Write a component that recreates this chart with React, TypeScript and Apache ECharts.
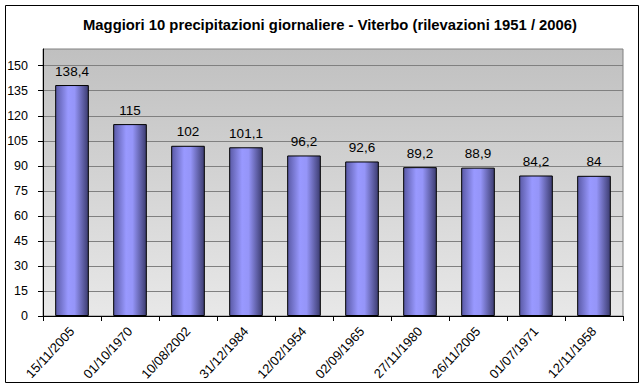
import React, { useEffect, useRef } from "react";
import * as echarts from "echarts";

const categories = [
  "15/11/2005",
  "01/10/1970",
  "10/08/2002",
  "31/12/1984",
  "12/02/1954",
  "02/09/1965",
  "27/11/1980",
  "26/11/2005",
  "01/07/1971",
  "12/11/1958",
];
const values = [138.4, 115, 102, 101.1, 96.2, 92.6, 89.2, 88.9, 84.2, 84];
const yTicks = [0, 15, 30, 45, 60, 75, 90, 105, 120, 135, 150];
const title = "Maggiori 10 precipitazioni giornaliere - Viterbo (rilevazioni 1951 / 2006)";

const FONT = "'Liberation Sans', Arial, sans-serif";

export default function App() {
  const ref = useRef<HTMLDivElement>(null);
  useEffect(() => {
    if (!ref.current) return;
    const chart = echarts.init(ref.current, undefined, { renderer: "svg" });
    chart.setOption({
      animation: false,
      backgroundColor: "#ffffff",
      textStyle: { fontFamily: FONT },
      graphic: [
        {
          type: "rect",
          shape: { x: 5.5, y: 5.5, width: 633, height: 377 },
          style: { fill: "#ffffff", stroke: "#000000", lineWidth: 1 },
          z: -10,
          silent: true,
        },
        {
          type: "text",
          x: 330,
          y: 17,
          style: {
            text: title,
            fontFamily: FONT,
            fontSize: 14.8,
            fontWeight: "bold",
            fill: "#000000",
            textAlign: "center",
            textVerticalAlign: "top",
          },
          z: 10,
        },
      ],
      grid: {
        left: 43,
        top: 49,
        right: 21,
        bottom: 76,
        show: true,
        backgroundColor: new echarts.graphic.LinearGradient(0, 0, 0, 1, [
          { offset: 0, color: "#c0c0c0" },
          { offset: 1, color: "#e8e8e8" },
        ]),
        borderColor: "#808080",
        borderWidth: 1,
      },
      xAxis: {
        type: "category",
        data: categories,
        boundaryGap: true,
        axisLine: { show: true, lineStyle: { color: "#000000", width: 1 } },
        axisTick: { show: true, length: 5, lineStyle: { color: "#000000" } },
        axisLabel: {
          rotate: 47,
          interval: 0,
          margin: 13,
          color: "#000000",
          fontSize: 13,
          fontFamily: FONT,
        },
        z: 10,
      },
      yAxis: {
        type: "value",
        min: 0,
        max: 160,
        interval: 15,
        axisLine: { show: true, lineStyle: { color: "#000000", width: 1 } },
        axisTick: {
          show: true,
          length: 5,
          lineStyle: { color: "#000000" },
          customValues: yTicks,
        },
        axisLabel: {
          color: "#000000",
          fontSize: 12.5,
          fontFamily: FONT,
          margin: 15,
          customValues: yTicks,
        },
        splitLine: { show: false },
        z: 10,
      },
      series: [
        {
          type: "bar",
          data: values,
          barWidth: "58%",
          z: 3,
          itemStyle: {
            color: new echarts.graphic.LinearGradient(0, 0, 1, 0, [
              { offset: 0, color: "#5a5aa6" },
              { offset: 0.38, color: "#9999ff" },
              { offset: 0.58, color: "#9595f8" },
              { offset: 1, color: "#3c3c70" },
            ]),
            borderColor: "#000000",
            borderWidth: 1,
          },
          label: {
            show: true,
            position: "top",
            distance: 7,
            color: "#000000",
            fontSize: 13.5,
            fontFamily: FONT,
            formatter: (p: any) => String(p.value).replace(".", ","),
          },
          markLine: {
            silent: true,
            symbol: "none",
            z: 1,
            label: { show: false },
            lineStyle: { color: "#808080", width: 1, type: "solid" },
            data: yTicks.slice(1).map((v) => ({ yAxis: v })),
          },
        },
      ],
    });
    return () => chart.dispose();
  }, []);
  return (
    <div
      ref={ref}
      style={{ position: "fixed", left: 0, top: 0, width: 644, height: 392 }}
    />
  );
}
